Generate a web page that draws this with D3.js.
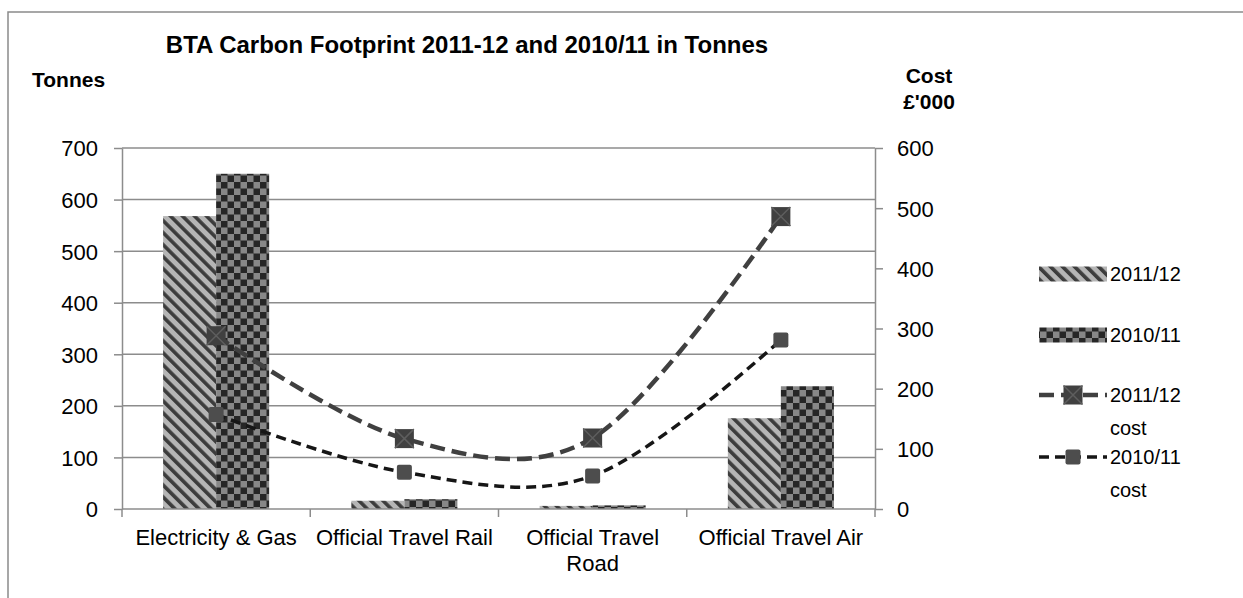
<!DOCTYPE html>
<html><head><meta charset="utf-8">
<script src="https://cdn.jsdelivr.net/npm/d3@7"></script>
<style>
body{margin:0;background:#fff;}
svg{display:block;font-family:"Liberation Sans",Arial,sans-serif;}
</style></head>
<body>
<svg id="c" width="1243" height="598"></svg>
<script>
const categories = ["Electricity & Gas", "Official Travel Rail", "Official Travel Road", "Official Travel Air"];
const categoryLabels = [["Electricity & Gas"], ["Official Travel Rail"], ["Official Travel", "Road"], ["Official Travel Air"]];
const barSeries = ["2011/12", "2010/11"];
const tonnes2011 = [568, 16, 6, 176];
const tonnes2010 = [650, 19, 7, 238];
const lineSeries = ["2011/12 cost", "2010/11 cost"];
const cost2011 = [288, 117, 118, 486];
const cost2010 = [157, 61, 55, 281];
const leftTicks = [0, 100, 200, 300, 400, 500, 600, 700];
const rightTicks = [0, 100, 200, 300, 400, 500, 600];
const title = "BTA Carbon Footprint 2011-12 and 2010/11 in Tonnes";

const svg = d3.select("#c");
const L = 122, R = 875, T = 148, B = 509;
const gridColor = "#8c8c8c";

// frame
svg.append("rect").attr("x", 8).attr("y", 12).attr("width", 1300).attr("height", 700)
  .attr("fill", "none").attr("stroke", "#8a8a8a").attr("stroke-width", 1.5);

// patterns
const defs = svg.append("defs");
const ps = defs.append("pattern").attr("id", "stripes").attr("patternUnits", "userSpaceOnUse")
  .attr("width", 8.5).attr("height", 8.5).attr("patternTransform", "rotate(-45)");
ps.append("rect").attr("width", 8.5).attr("height", 8.5).attr("fill", "#b5b5b5");
ps.append("rect").attr("width", 3.6).attr("height", 8.5).attr("fill", "#3c3c3c");
const pc = defs.append("pattern").attr("id", "checks").attr("patternUnits", "userSpaceOnUse")
  .attr("width", 13).attr("height", 13).attr("x", 0).attr("y", 0);
pc.append("rect").attr("width", 13).attr("height", 13).attr("fill", "#262626");
pc.append("rect").attr("x", 6.5).attr("y", 0).attr("width", 6.5).attr("height", 6.5).attr("fill", "#878787");
pc.append("rect").attr("x", 0).attr("y", 6.5).attr("width", 6.5).attr("height", 6.5).attr("fill", "#878787");
const fills = ["url(#stripes)", "url(#checks)"];

const x = d3.scaleBand().domain(categories).range([L, R]).padding(0);
const gapRatio = 1.55;
const bw = x.bandwidth() / (2 + gapRatio);
const x1 = d3.scaleBand().domain(barSeries).range([bw * gapRatio / 2, bw * gapRatio / 2 + 2 * bw]).padding(0);
const yL = d3.scaleLinear().domain([0, 700]).range([B, T]);
const yR = d3.scaleLinear().domain([0, 600]).range([B, T]);

// gridlines
svg.append("g").selectAll("line").data(leftTicks.slice(1)).join("line")
  .attr("x1", L).attr("x2", R).attr("y1", d => yL(d)).attr("y2", d => yL(d))
  .attr("stroke", gridColor).attr("stroke-width", 1.5);

// bars
const barData = [tonnes2011, tonnes2010];
barSeries.forEach((s, si) => {
  svg.append("g").selectAll("rect").data(categories).join("rect")
    .attr("x", c => x(c) + x1(s)).attr("width", x1.bandwidth())
    .attr("y", (c, i) => yL(barData[si][i])).attr("height", (c, i) => B - yL(barData[si][i]))
    .attr("fill", fills[si]);
});

// axes
function styleAxis(g) {
  g.select(".domain").attr("stroke", gridColor).attr("stroke-width", 1.5);
  g.selectAll(".tick line").attr("stroke", gridColor).attr("stroke-width", 1.5);
  g.selectAll(".tick text").attr("fill", "#000").attr("font-size", 22)
    .attr("font-family", "'Liberation Sans',Arial,sans-serif");
}
const axL = svg.append("g").attr("transform", `translate(${L},0)`)
  .call(d3.axisLeft(yL).tickValues(leftTicks).tickSize(8).tickPadding(16).tickSizeOuter(0));
styleAxis(axL);
axL.selectAll(".tick text").attr("dy", "0.36em");
const axR = svg.append("g").attr("transform", `translate(${R},0)`)
  .call(d3.axisRight(yR).tickValues(rightTicks).tickSize(8).tickPadding(14).tickSizeOuter(0));
styleAxis(axR);
axR.selectAll(".tick text").attr("dy", "0.36em");

// bottom axis with ticks at category boundaries
const boundaries = categories.map(c => x(c)).concat([R]);
svg.append("line").attr("x1", L).attr("x2", R).attr("y1", B).attr("y2", B)
  .attr("stroke", gridColor).attr("stroke-width", 1.5);
svg.append("g").selectAll("line").data(boundaries).join("line")
  .attr("x1", d => d).attr("x2", d => d).attr("y1", B).attr("y2", B + 8)
  .attr("stroke", gridColor).attr("stroke-width", 1.5);
const xl = svg.append("g").selectAll("text").data(categories).join("text")
  .attr("x", c => x(c) + x.bandwidth() / 2).attr("y", 545)
  .attr("text-anchor", "middle").attr("font-size", 22).attr("fill", "#000");
xl.each(function(c, i) {
  d3.select(this).selectAll("tspan").data(categoryLabels[i]).join("tspan")
    .attr("x", x(c) + x.bandwidth() / 2).attr("dy", (d, j) => j === 0 ? 0 : 26).text(d => d);
});

// lines
const lineData = [cost2011, cost2010];
const lineStyles = [
  {stroke: "#404040", width: 4.5, dash: "15,7", marker: 19, mfill: "#404040", cross: true},
  {stroke: "#161616", width: 3.5, dash: "10,6", marker: 15, mfill: "#4d4d4d", cross: false}
];
const line = d3.line().x(d => d[0]).y(d => d[1]).curve(d3.curveCardinal.tension(0));
function drawMarker(g, cx, cy, st) {
  const m = st.marker;
  g.append("rect").attr("x", cx - m / 2).attr("y", cy - m / 2).attr("width", m).attr("height", m)
    .attr("rx", st.cross ? 0 : 2).attr("fill", st.mfill);
  if (st.cross) {
    g.append("path").attr("d", `M${cx - m/2},${cy - m/2}L${cx + m/2},${cy + m/2}M${cx + m/2},${cy - m/2}L${cx - m/2},${cy + m/2}`)
      .attr("stroke", "#5e5e5e").attr("stroke-width", 1.5);
  }
}
lineSeries.forEach((s, si) => {
  const st = lineStyles[si];
  const pts = categories.map((c, i) => [x(c) + x.bandwidth() / 2, yR(lineData[si][i])]);
  const g = svg.append("g");
  g.append("path").attr("d", line(pts)).attr("fill", "none").attr("stroke", st.stroke)
    .attr("stroke-width", st.width).attr("stroke-dasharray", st.dash);
  pts.forEach(p => drawMarker(g, p[0], p[1], st));
});

// legend
const lgX = 1039, lgW = 68, txtX = 1110;
const legendRows = [
  {y: 274, label: ["2011/12"], type: "bar", si: 0},
  {y: 335, label: ["2010/11"], type: "bar", si: 1},
  {y: 395, label: ["2011/12", "cost"], type: "line", si: 0},
  {y: 457, label: ["2010/11", "cost"], type: "line", si: 1}
];
legendRows.forEach(r => {
  const g = svg.append("g");
  if (r.type === "bar") {
    g.append("rect").attr("x", lgX).attr("y", r.y - 7.5).attr("width", lgW).attr("height", 15).attr("fill", fills[r.si]);
  } else {
    const st = lineStyles[r.si];
    g.append("line").attr("x1", lgX).attr("x2", lgX + lgW).attr("y1", r.y).attr("y2", r.y)
      .attr("stroke", st.stroke).attr("stroke-width", st.width).attr("stroke-dasharray", st.dash);
    drawMarker(g, lgX + lgW / 2, r.y, st);
  }
  const t = g.append("text").attr("x", txtX).attr("y", r.y + 7).attr("font-size", 20).attr("fill", "#000");
  t.selectAll("tspan").data(r.label).join("tspan").attr("x", txtX).attr("dy", (d, j) => j === 0 ? 0 : 33).text(d => d);
});

// titles
svg.append("text").attr("x", 467).attr("y", 53).attr("text-anchor", "middle")
  .attr("font-size", 24).attr("font-weight", "bold").text(title);
svg.append("text").attr("x", 32).attr("y", 87).attr("font-size", 21).attr("font-weight", "bold").text("Tonnes");
const ct = svg.append("text").attr("x", 929).attr("y", 83).attr("text-anchor", "middle")
  .attr("font-size", 21).attr("font-weight", "bold");
ct.selectAll("tspan").data(["Cost", "£'000"]).join("tspan").attr("x", 929).attr("dy", (d, j) => j === 0 ? 0 : 26).text(d => d);
</script>
</body></html>
